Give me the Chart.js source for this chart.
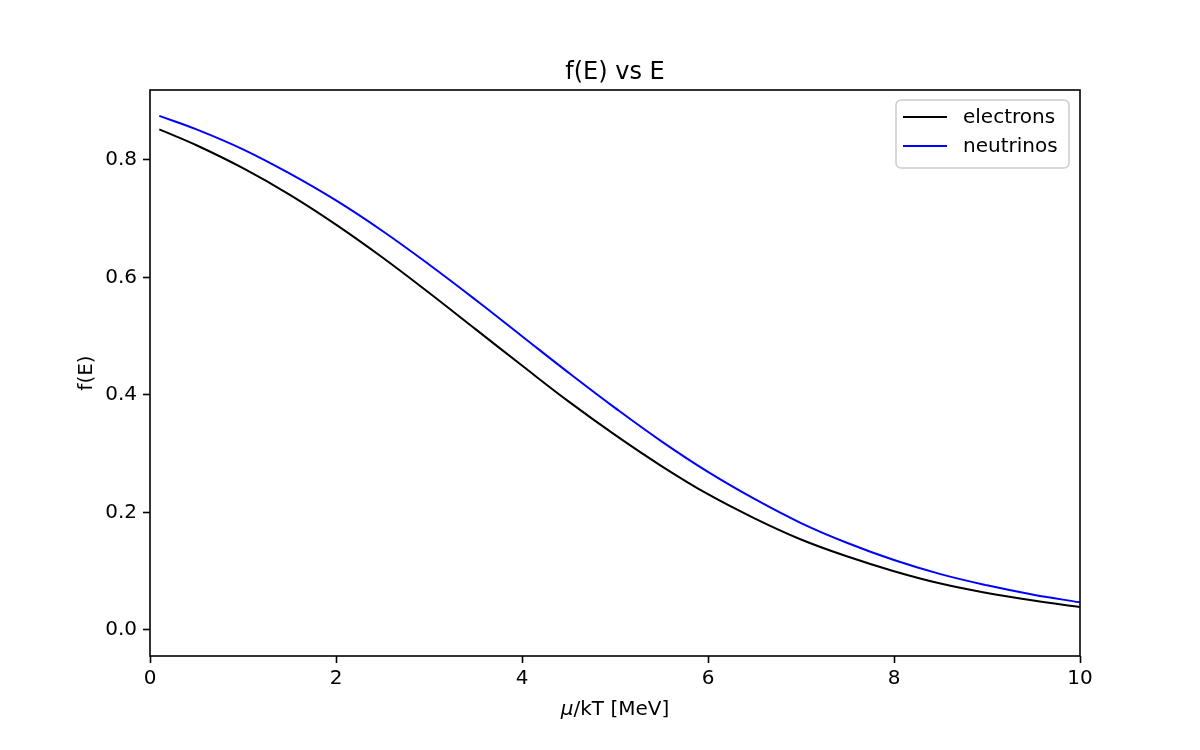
<!DOCTYPE html>
<html>
<head>
<meta charset="utf-8">
<script src="https://cdn.jsdelivr.net/npm/chart.js@4/dist/chart.umd.min.js"></script>
<style>
html,body{margin:0;padding:0;background:#fff;}
#wrap{width:1200px;height:750px;position:relative;}
</style>
</head>
<body>
<div id="wrap"><canvas id="c" width="1200" height="750"></canvas></div>
<script>
const energies = [0.1,0.5,1,1.5,2,2.5,3,3.5,4,4.5,5,5.5,6,6.5,7,7.5,8,8.5,9,9.5,10];
const electrons = [0.852,0.825,0.786,0.741,0.690,0.634,0.574,0.512,0.450,0.389,0.332,0.279,0.231,0.190,0.154,0.125,0.100,0.079,0.063,0.050,0.039];
const neutrinos = [0.875,0.852,0.818,0.777,0.731,0.679,0.622,0.562,0.500,0.438,0.378,0.321,0.269,0.223,0.182,0.148,0.119,0.095,0.076,0.060,0.047];
const xTicks = [0,2,4,6,8,10];
const yTicks = [0.0,0.2,0.4,0.6,0.8];
const seriesNames = ['electrons','neutrinos'];
const seriesColors = ['#000000','#0000ff'];
const titleText = 'f(E) vs E';
const yLabel = 'f(E)';
const xLabelMu = 'μ';
const xLabelRest = '/kT [MeV]';

const FONT = '"DejaVu Sans", sans-serif';

const decor = {
  id: 'decor',
  afterDraw(chart) {
    const ctx = chart.ctx;
    const a = chart.chartArea;
    ctx.save();
    ctx.strokeStyle = '#000';
    ctx.lineWidth = 1.6;
    ctx.strokeRect(a.left, a.top, a.right - a.left, a.bottom - a.top);
    ctx.fillStyle = '#000';
    ctx.font = '24px ' + FONT;
    ctx.textAlign = 'center';
    ctx.textBaseline = 'alphabetic';
    ctx.fillText(titleText, (a.left + a.right) / 2, 79);
    ctx.font = 'italic 20px ' + FONT;
    const wMu = ctx.measureText(xLabelMu).width;
    ctx.font = '20px ' + FONT;
    const wRest = ctx.measureText(xLabelRest).width;
    const cx = (a.left + a.right) / 2;
    let sx = cx - (wMu + wRest) / 2;
    ctx.textAlign = 'left';
    ctx.font = 'italic 20px ' + FONT;
    ctx.fillText(xLabelMu, sx, 715);
    ctx.font = '20px ' + FONT;
    ctx.fillText(xLabelRest, sx + wMu, 715);
    ctx.save();
    ctx.translate(92, (a.top + a.bottom) / 2);
    ctx.rotate(-Math.PI / 2);
    ctx.textAlign = 'center';
    ctx.fillText(yLabel, 0, 0);
    ctx.restore();
    const lx = 896, ly = 100, lw = 173, lh = 68, r = 5;
    ctx.globalAlpha = 0.8;
    ctx.fillStyle = '#fff';
    ctx.beginPath();
    ctx.roundRect(lx, ly, lw, lh, r);
    ctx.fill();
    ctx.globalAlpha = 1;
    ctx.strokeStyle = '#cccccc';
    ctx.lineWidth = 1.5;
    ctx.stroke();
    ctx.font = '20px ' + FONT;
    ctx.textAlign = 'left';
    ctx.textBaseline = 'middle';
    seriesNames.forEach((n, i) => {
      const y = 117 + i * 29;
      ctx.strokeStyle = seriesColors[i];
      ctx.lineWidth = 2;
      ctx.beginPath();
      ctx.moveTo(903, y);
      ctx.lineTo(947, y);
      ctx.stroke();
      ctx.fillStyle = '#000';
      ctx.fillText(n, 963, y + 1);
    });
    ctx.restore();
  }
};

const datasets = [electrons, neutrinos].map((arr, i) => ({
  label: seriesNames[i],
  data: energies.map((e, j) => ({x: e, y: arr[j]})),
  borderColor: seriesColors[i],
  backgroundColor: seriesColors[i],
  borderWidth: 2,
  pointRadius: 0,
  fill: false,
  tension: 0.4
}));

new Chart(document.getElementById('c'), {
  type: 'line',
  data: { datasets },
  options: {
    responsive: false,
    animation: false,
    devicePixelRatio: 1,
    layout: { padding: { top: 90, right: 120, left: 0, bottom: 0 } },
    plugins: { legend: { display: false }, title: { display: false }, tooltip: { enabled: false } },
    scales: {
      x: {
        type: 'linear',
        min: 0, max: 10,
        afterFit(axis) { axis.height = 94; },
        afterBuildTicks(axis) { axis.ticks = xTicks.map(v => ({value: v})); },
        grid: { drawOnChartArea: false, tickLength: 7, tickColor: '#000', tickWidth: 1.6 },
        border: { display: false },
        ticks: { color: '#000', font: { family: FONT, size: 20 }, padding: 4, maxRotation: 0,
                 callback: v => String(v) }
      },
      y: {
        type: 'linear',
        min: -0.0443, max: 0.919,
        afterFit(axis) { axis.width = 150; },
        afterBuildTicks(axis) { axis.ticks = yTicks.map(v => ({value: v})); },
        grid: { drawOnChartArea: false, tickLength: 7, tickColor: '#000', tickWidth: 1.6 },
        border: { display: false },
        ticks: { color: '#000', font: { family: FONT, size: 20 }, padding: 6,
                 callback: v => Number(v).toFixed(1) }
      }
    }
  },
  plugins: [decor]
});
</script>
</body>
</html>
